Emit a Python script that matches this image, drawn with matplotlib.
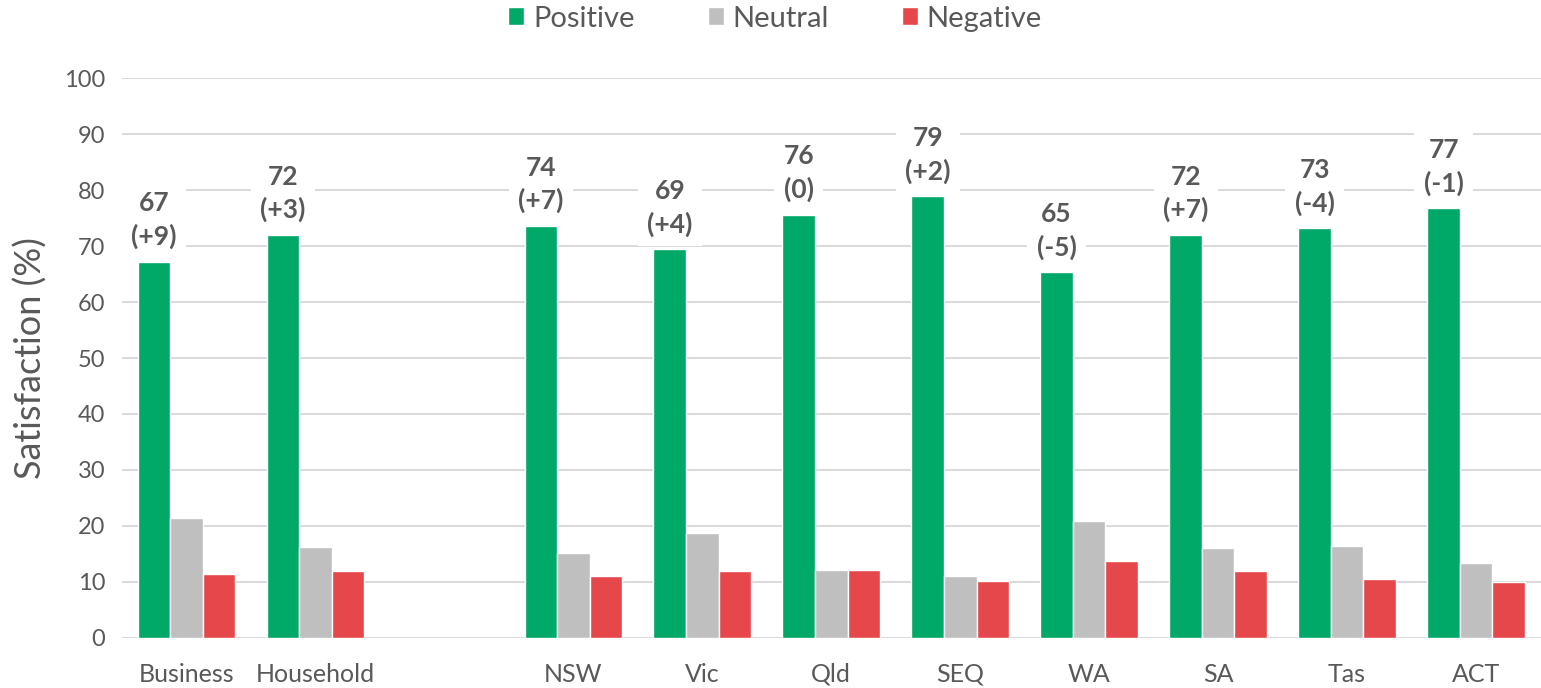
import matplotlib.pyplot as plt
import numpy as np

# data (slot 2 is the empty gap between groups)
categories = ['Business', 'Household', '', 'NSW', 'Vic', 'Qld', 'SEQ', 'WA', 'SA', 'Tas', 'ACT']
positive = [67.2, 72.0, np.nan, 73.6, 69.4, 75.6, 78.9, 65.3, 72.0, 73.2, 76.7]
neutral = [21.4, 16.2, np.nan, 15.2, 18.7, 12.1, 11.0, 20.9, 16.1, 16.4, 13.4]
negative = [11.4, 11.9, np.nan, 11.1, 12.0, 12.2, 10.2, 13.8, 12.0, 10.5, 10.0]
labels = ['67\n(+9)', '72\n(+3)', '', '74\n(+7)', '69\n(+4)', '76\n(0)', '79\n(+2)',
          '65\n(-5)', '72\n(+7)', '73\n(-4)', '77\n(-1)']

green = '#00A968'
grey = '#BFBFBF'
red = '#E5474A'
txt = '#595959'

plt.rcParams['font.family'] = ['Lato', 'DejaVu Sans']

fig = plt.figure(figsize=(15.41, 6.88), dpi=100)
ax = fig.add_axes([0.0792, 0.0727, 0.9205, 0.8139])

x = np.arange(len(categories))
w = 0.2525
ax.bar(x - w, positive, w, color=green, edgecolor='white', linewidth=1, label='Positive', zorder=2)
ax.bar(x, neutral, w, color=grey, edgecolor='white', linewidth=1, label='Neutral', zorder=2)
ax.bar(x + w, negative, w, color=red, edgecolor='white', linewidth=1, label='Negative', zorder=2)

# value labels on the positive bars
for i in range(len(categories)):
    if labels[i] == '':
        continue
    ax.annotate(labels[i], (x[i] - w, positive[i]), xytext=(0, 9), textcoords='offset points',
                ha='center', va='bottom', fontsize=19, fontweight='bold', color=txt,
                linespacing=1.4, zorder=3,
                bbox=dict(boxstyle='square,pad=0.35', fc='white', ec='none'))

ax.set_xlim(-0.5, len(categories) - 0.5)
ax.set_ylim(0, 100)
ax.set_yticks(np.arange(0, 101, 10))
ax.set_xticks(x)
ax.set_xticklabels(categories)
ax.yaxis.grid(True, color='#D9D9D9', linewidth=1.4)
ax.set_axisbelow(True)
for s in ax.spines.values():
    s.set_visible(False)
ax.tick_params(length=0, colors=txt)
ax.tick_params(axis='x', pad=18, labelsize=18)
ax.tick_params(axis='y', pad=12, labelsize=17)
ax.set_ylabel('Satisfaction (%)', fontsize=26, color=txt, labelpad=12)

fig.legend(loc='center', bbox_to_anchor=(0.503, 0.973), ncol=3, frameon=False,
           fontsize=21, labelcolor=txt, handlelength=0.55, handleheight=0.55,
           handletextpad=0.3, columnspacing=2.5)

fig.savefig('out.png', dpi=100)
